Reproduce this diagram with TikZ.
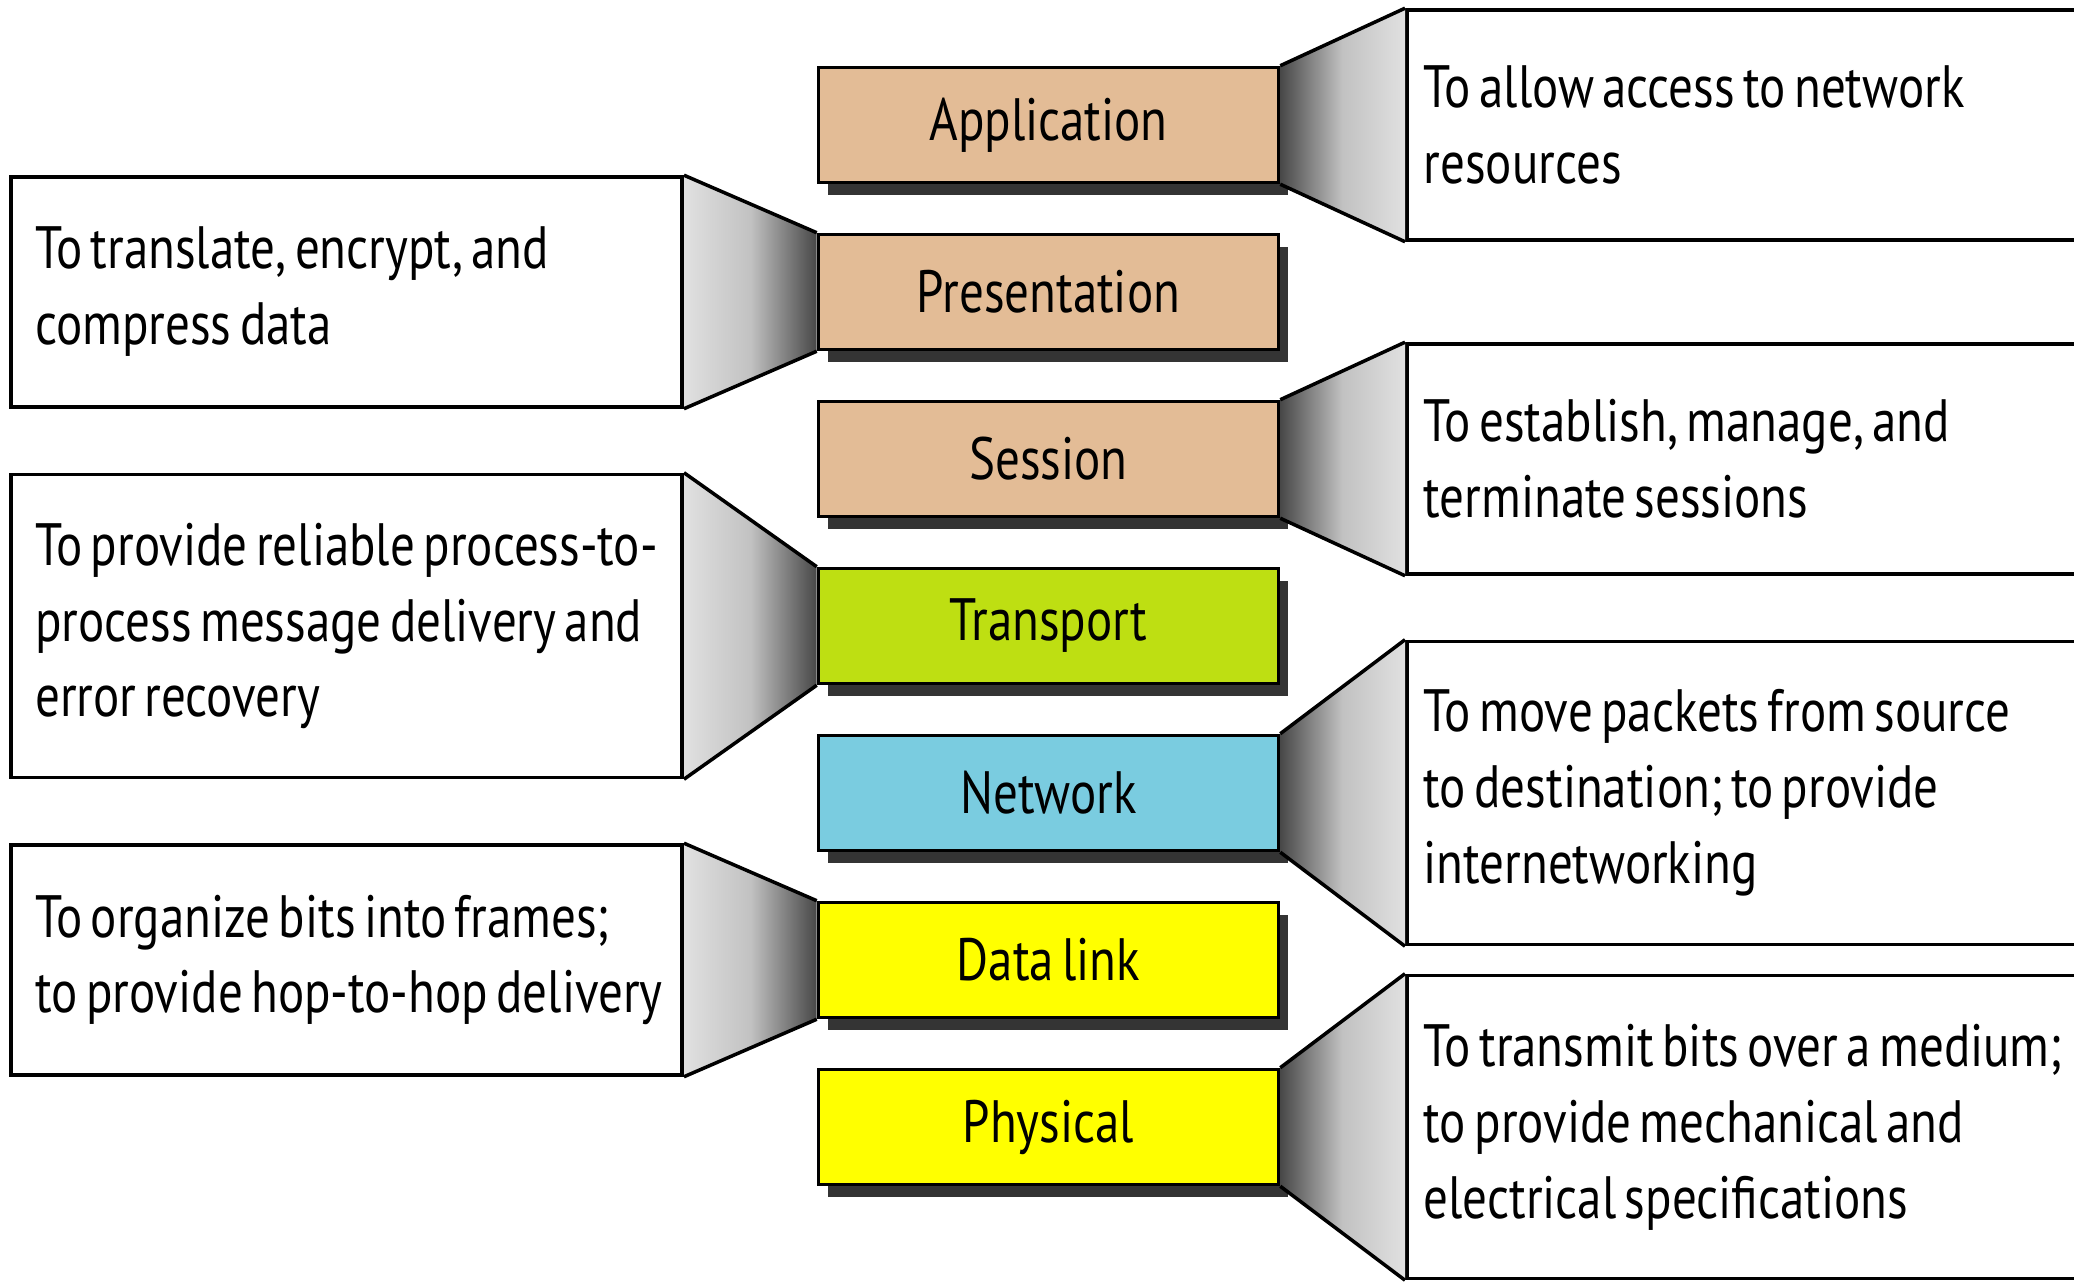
\documentclass[tikz,border=0pt]{standalone}
\usepackage{fontspec}
\setmainfont{PT Sans}[FakeStretch=0.82, WordSpace=0.65]
\usetikzlibrary{shadows}

\definecolor{upperlayer}{RGB}{227,188,150}
\definecolor{transportgreen}{RGB}{190,223,18}
\definecolor{networkblue}{RGB}{122,204,224}
\definecolor{lowerlayer}{RGB}{255,255,0}
\definecolor{shadowgray}{RGB}{52,52,52}

\begin{document}
\begin{tikzpicture}[
    layer/.style={draw, line width=1pt, minimum width=4.6cm, minimum height=1.15cm,
        font=\fontsize{17pt}{21.6pt}\selectfont,
        drop shadow={shadow xshift=0.09cm, shadow yshift=-0.13cm, fill=shadowgray, opacity=1}},
    note/.style={draw, line width=1pt, fill=white, align=flush left,
        font=\fontsize{17pt}{21.6pt}\selectfont},
    rightnote/.style={note, anchor=west, text width=6.8cm, inner xsep=0.17cm},
    leftnote/.style={note, anchor=east, text width=6.23cm, inner xsep=0.24cm},
    tworows/.style={minimum height=2.3cm},
    threerows/.style={minimum height=3.03cm},
    funnelright/.style={left color=black!72, right color=black!12, middle color=black!24},
    funnelleft/.style={left color=black!12, right color=black!72, middle color=black!24}
]
    \useasboundingbox (0,0) rectangle (20.74,12.85);
    \clip (0,0) rectangle (20.74,12.85);

    % The seven layers
    \node[layer, fill=upperlayer] (application) at (10.485,11.60) {Application};
    \node[layer, fill=upperlayer] (presentation) at (10.485,9.93) {Presentation};
    \node[layer, fill=upperlayer] (session) at (10.485,8.26) {Session};
    \node[layer, fill=transportgreen] (transport) at (10.485,6.59) {Transport};
    \node[layer, fill=networkblue] (network) at (10.485,4.92) {Network};
    \node[layer, fill=lowerlayer] (datalink) at (10.485,3.25) {Data link};
    \node[layer, fill=lowerlayer] (physical) at (10.485,1.58) {Physical};

    % Duties on the right
    \node[rightnote, tworows] (appnote) at (14.05,11.60) {To allow access to network\\resources};
    \node[rightnote, tworows] (sessnote) at (14.05,8.26) {To establish, manage, and\\terminate sessions};
    \node[rightnote, threerows] (netnote) at (14.05,4.92) {To move packets from source\\to destination; to provide\\internetworking};
    \node[rightnote, threerows] (physnote) at (14.05,1.58) {To transmit bits over a medium;\\to provide mechanical and\\electrical specifications};

    % Duties on the left
    \node[leftnote, tworows] (presnote) at (6.84,9.93) {To translate, encrypt, and\\compress data};
    \node[leftnote, threerows] (transnote) at (6.84,6.59) {To provide reliable process-to-\\process message delivery and\\error recovery};
    \node[leftnote, tworows] (linknote) at (6.84,3.25) {To organize bits into frames;\\\mbox{to provide hop-to-hop delivery}};

    % Funnels from the layers to their duties
    \shade[funnelright] (application.north east) -- (appnote.north west) -- (appnote.south west) -- (application.south east) -- cycle;
    \draw[line width=1pt] (application.north east) -- (appnote.north west) (application.south east) -- (appnote.south west);
    \shade[funnelright] (session.north east) -- (sessnote.north west) -- (sessnote.south west) -- (session.south east) -- cycle;
    \draw[line width=1pt] (session.north east) -- (sessnote.north west) (session.south east) -- (sessnote.south west);
    \shade[funnelright] (network.north east) -- (netnote.north west) -- (netnote.south west) -- (network.south east) -- cycle;
    \draw[line width=1pt] (network.north east) -- (netnote.north west) (network.south east) -- (netnote.south west);
    \shade[funnelright] (physical.north east) -- (physnote.north west) -- (physnote.south west) -- (physical.south east) -- cycle;
    \draw[line width=1pt] (physical.north east) -- (physnote.north west) (physical.south east) -- (physnote.south west);

    \shade[funnelleft] (presnote.north east) -- (presentation.north west) -- (presentation.south west) -- (presnote.south east) -- cycle;
    \draw[line width=1pt] (presnote.north east) -- (presentation.north west) (presnote.south east) -- (presentation.south west);
    \shade[funnelleft] (transnote.north east) -- (transport.north west) -- (transport.south west) -- (transnote.south east) -- cycle;
    \draw[line width=1pt] (transnote.north east) -- (transport.north west) (transnote.south east) -- (transport.south west);
    \shade[funnelleft] (linknote.north east) -- (datalink.north west) -- (datalink.south west) -- (linknote.south east) -- cycle;
    \draw[line width=1pt] (linknote.north east) -- (datalink.north west) (linknote.south east) -- (datalink.south west);

\end{tikzpicture}
\end{document}
